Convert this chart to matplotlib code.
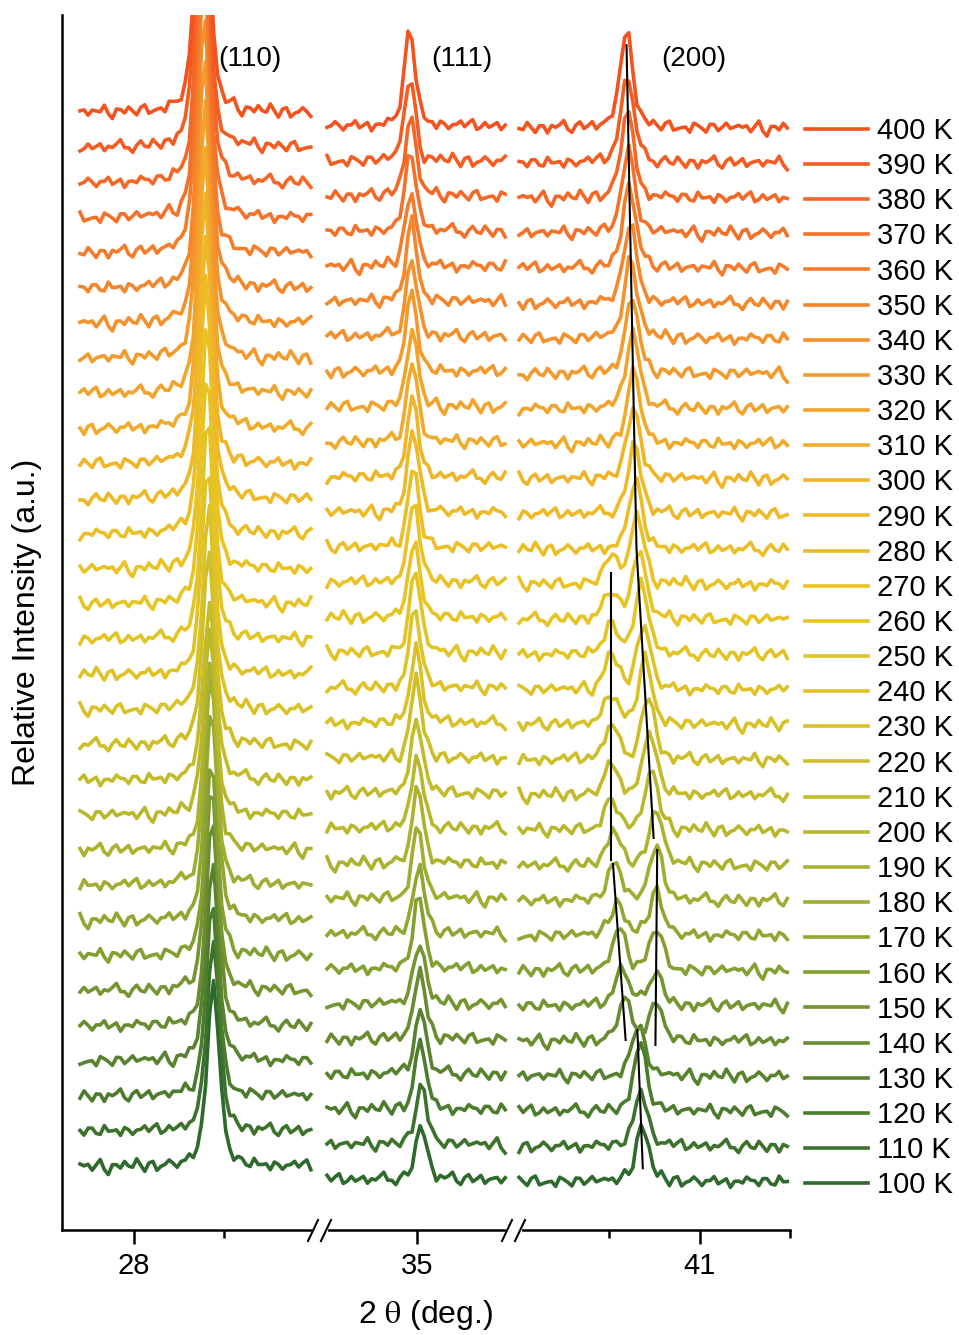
import matplotlib
matplotlib.use("Agg")
import matplotlib.pyplot as plt
import numpy as np
from matplotlib.colors import LinearSegmentedColormap
from matplotlib.lines import Line2D
from matplotlib.transforms import blended_transform_factory

plt.rcParams['font.family'] = ['Liberation Sans', 'DejaVu Sans']
plt.rcParams['mathtext.fontset'] = 'stix'

# temperatures (K), bottom trace first
temps = [100, 110, 120, 130, 140, 150, 160, 170, 180, 190, 200,
         210, 220, 230, 240, 250, 260, 270, 280, 290, 300,
         310, 320, 330, 340, 350, 360, 370, 380, 390, 400]

# (110) peak
pos110 = [28.88, 28.88, 28.87, 28.87, 28.87, 28.86, 28.86, 28.86, 28.85, 28.85, 28.84,
          28.84, 28.83, 28.83, 28.82, 28.82, 28.81, 28.81, 28.80, 28.80, 28.79,
          28.79, 28.79, 28.78, 28.78, 28.78, 28.77, 28.77, 28.77, 28.76, 28.76]
h110 = [5.3, 5.6, 5.5, 5.7, 5.9, 5.8, 5.5, 6.1, 6.0, 5.5, 5.3,
        5.1, 5.5, 5.7, 6.0, 6.3, 6.6, 7.0, 7.3, 7.5, 7.7,
        8.0, 8.3, 8.6, 8.8, 9.0, 9.0, 9.1, 9.2, 9.3, 9.4]

# (111) peak
pos111 = [35.05, 35.05, 35.04, 35.04, 35.03, 35.03, 35.02, 35.02, 35.01, 35.01, 35.00,
          35.00, 34.99, 34.99, 34.98, 34.98, 34.97, 34.97, 34.96, 34.96, 34.95,
          34.95, 34.95, 34.94, 34.94, 34.94, 34.93, 34.93, 34.93, 34.92, 34.92]
h111 = [1.6, 1.8, 2.0, 1.9, 2.0, 1.9, 2.1, 2.0, 2.1, 2.2, 2.1,
        2.2, 2.3, 2.2, 2.3, 2.4, 2.3, 2.4, 2.3, 2.4, 2.3,
        2.3, 2.2, 2.3, 2.2, 2.3, 2.2, 2.3, 2.3, 2.4, 2.8]

# (200) peak, split into two components between 140 K and 270 K
pos200a = [40.36, 40.35, 40.34, 40.32, 40.17, 40.14, 40.11, 40.08, 40.06, 40.04, 40.02,
           40.02, 40.02, 40.02, 40.02, 40.02, 40.02, 40.02, 40.29, 40.28, 40.27,
           40.27, 40.26, 40.25, 40.24, 40.23, 40.22, 40.21, 40.20, 40.20, 40.19]
h200a = [1.6, 1.6, 1.9, 1.5, 1.2, 1.1, 1.2, 1.0, 1.1, 1.0, 0.9,
         0.9, 1.0, 0.9, 1.0, 0.9, 0.8, 0.8, 2.0, 2.0, 2.1,
         2.1, 2.2, 2.2, 2.3, 2.3, 2.4, 2.4, 2.5, 2.5, 2.7]
pos200b = [40.40, 40.40, 40.40, 40.40, 40.51, 40.51, 40.52, 40.52, 40.52, 40.52, 40.47,
           40.45, 40.43, 40.40, 40.38, 40.36, 40.33, 40.31, 40.30, 40.30, 40.30,
           40.30, 40.30, 40.30, 40.30, 40.30, 40.30, 40.30, 40.30, 40.30, 40.30]
h200b = [0.0, 0.0, 0.0, 0.0, 1.1, 1.0, 1.2, 1.3, 1.5, 1.6, 1.7,
         1.8, 1.8, 1.9, 1.9, 2.0, 2.0, 2.0, 0.0, 0.0, 0.0,
         0.0, 0.0, 0.0, 0.0, 0.0, 0.0, 0.0, 0.0, 0.0, 0.0]

# background wiggle (relative units)
noise = [0.3, -0.2, 0.5, -0.6, 0.1, 0.8, -0.3, -0.9, 0.4, 0.2, -0.5, 0.7, -0.1, -0.4, 0.9,
         0.0, -0.7, 0.3, 0.6, -0.8, 0.2, -0.2, 0.5, 0.1, -0.6, 0.4, -0.3, 0.8, -0.5, 0.0,
         0.6, -0.9, 0.3, 0.1, -0.4, 0.7, -0.2, 0.4, -0.7, 0.5, 0.2, -0.1, -0.6, 0.9, -0.3,
         0.0, 0.4, -0.8, 0.6, 0.1, -0.5, 0.3, -0.2, 0.7, -0.4, 0.2, 0.8, -0.6, -0.1, 0.5,
         -0.3, 0.0, 0.6, -0.7, 0.4, -0.2, 0.1, 0.9, -0.5, 0.3, -0.8, 0.2, 0.5, -0.1, -0.4,
         0.7, 0.0, -0.6, 0.3, 0.4, -0.9, 0.6, -0.2, 0.1, 0.8, -0.3, -0.5, 0.2, 0.6, -0.4,
         0.0, 0.7, -0.7, 0.3, -0.1, 0.5, -0.6, 0.4, 0.1, -0.3, 0.9, -0.2, -0.8, 0.5, 0.2,
         -0.4, 0.6, 0.0, -0.5, 0.3, 0.7, -0.6, 0.1, -0.2, 0.4, -0.9, 0.8, -0.1, 0.2, -0.7,
         0.5, 0.3, -0.4, 0.0, 0.6, -0.3, 0.1]

# guide lines drawn on the (200) panel: (2theta, stacked intensity)
guide_x = [[40.19, 40.30, 40.49], [40.02, 40.02], [40.04, 40.18], [40.53, 40.51], [40.31, 40.37]]
guide_y = [[33.73, 19.41, 11.16], [18.70, 10.53], [10.42, 5.41], [10.82, 5.27], [5.69, 1.76]]

peak_labels = ['(110)', '(111)', '(200)']
label_x = [29.29, 35.50, 40.93]


def pv(x, pos, height, fwhm, eta=0.45):
    d = (x - pos) / fwhm
    return height * (eta / (1 + 4 * d ** 2) + (1 - eta) * np.exp(-4 * np.log(2) * d ** 2))


W, H = 959, 1335
fig = plt.figure(figsize=(9.59, 13.35), dpi=100)


def fx(px):
    return px / W


def fy(py):
    return 1 - py / H


edges = [62, 320, 514, 790]
xlims = [(27.2, 30.067), (33.922, 36.078), (38.944, 42.0)]
xranges = [(27.4, 30.0), (34.0, 36.0), (39.0, 42.0)]
base = [1.80, 1.42, 1.37]
ytop = 34.59

cmap = LinearSegmentedColormap.from_list(
    'xrd', ['#2E6A2B', '#5E862E', '#8EA632', '#B9B82C', '#DCC326',
            '#EAC424', '#F0B428', '#F4982D', '#F4752A', '#F4521F'])
colors = [cmap(k / (len(temps) - 1)) for k in range(len(temps))]

# soften the wiggle a little so neighbouring points are correlated
n = len(noise)
wiggle = np.convolve(np.array(noise * 3), [0.2, 0.6, 0.2], mode='same')[n:2 * n]

axes = []
for s in range(3):
    ax = fig.add_axes([fx(edges[s]), fy(1230), fx(edges[s + 1]) - fx(edges[s]), fy(15) - fy(1230)])
    ax.set_xlim(*xlims[s])
    ax.set_ylim(0, ytop)
    ax.set_yticks([])
    for sp in ['top', 'right']:
        ax.spines[sp].set_visible(False)
    if s > 0:
        ax.spines['left'].set_visible(False)
    ax.spines['left'].set_linewidth(1.8)
    ax.spines['bottom'].set_linewidth(1.8)
    ax.patch.set_alpha(0)
    ax.tick_params(axis='x', which='major', length=10, width=1.8, labelsize=21, pad=6)
    ax.tick_params(axis='x', which='minor', length=6, width=1.8)
    axes.append(ax)

axes[0].set_xticks([28])
axes[0].set_xticks([29], minor=True)
axes[1].set_xticks([35])
axes[2].set_xticks([41])
axes[2].set_xticks([40, 42], minor=True)

handles = []
for k, T in enumerate(temps):
    for s, ax in enumerate(axes):
        x = np.arange(xranges[s][0], xranges[s][1] + 1e-6, 0.045)
        idx = np.arange(len(x)) + 37 * k + 53 * s
        y = base[s] + k + 0.45 * np.take(wiggle, idx, mode='wrap')
        if s == 0:
            y = y + pv(x, pos110[k], h110[k], 0.16, 0.5)
        elif s == 1:
            y = y + pv(x, pos111[k], h111[k], 0.14)
        else:
            y = y + pv(x, pos200a[k], h200a[k], 0.17) + pv(x, pos200b[k], h200b[k], 0.17)
        line, = ax.plot(x, y, color=colors[k], lw=2.6, solid_joinstyle='round', zorder=2 + k)
        if s == 0:
            handles.append(line)

for gx, gy in zip(guide_x, guide_y):
    axes[2].plot(gx, gy, color='black', lw=1.5, zorder=50)

for ax, txt, lx in zip(axes, peak_labels, label_x):
    tr = blended_transform_factory(ax.transData, ax.transAxes)
    ax.text(lx, 0.964, txt, transform=tr, ha='center', va='center', fontsize=20)

# axis break marks
for b in edges[1:3]:
    fig.add_artist(Line2D([fx(b - 6), fx(b + 6)], [fy(1230), fy(1230)], color='white', lw=3, zorder=60))
    for off in (-7, 6):
        fig.add_artist(Line2D([fx(b + off - 5), fx(b + off + 5)], [fy(1241), fy(1220)],
                              color='black', lw=1.5, zorder=61))

fig.legend(handles[::-1], [f'{T} K' for T in temps[::-1]], loc='upper left',
           bbox_to_anchor=(fx(805), fy(117)), frameon=False, fontsize=21,
           handlelength=2.16, handletextpad=0.31, labelspacing=0.245,
           borderpad=0, borderaxespad=0)

fig.text(fx(426), fy(1315), r'2 $\mathrm{\theta}$ (deg.)', ha='center', va='center', fontsize=23)
fig.text(fx(27), fy(622), 'Relative Intensity (a.u.)', rotation=90, ha='center', va='center', fontsize=23)

fig.savefig('out.png', dpi=100)
